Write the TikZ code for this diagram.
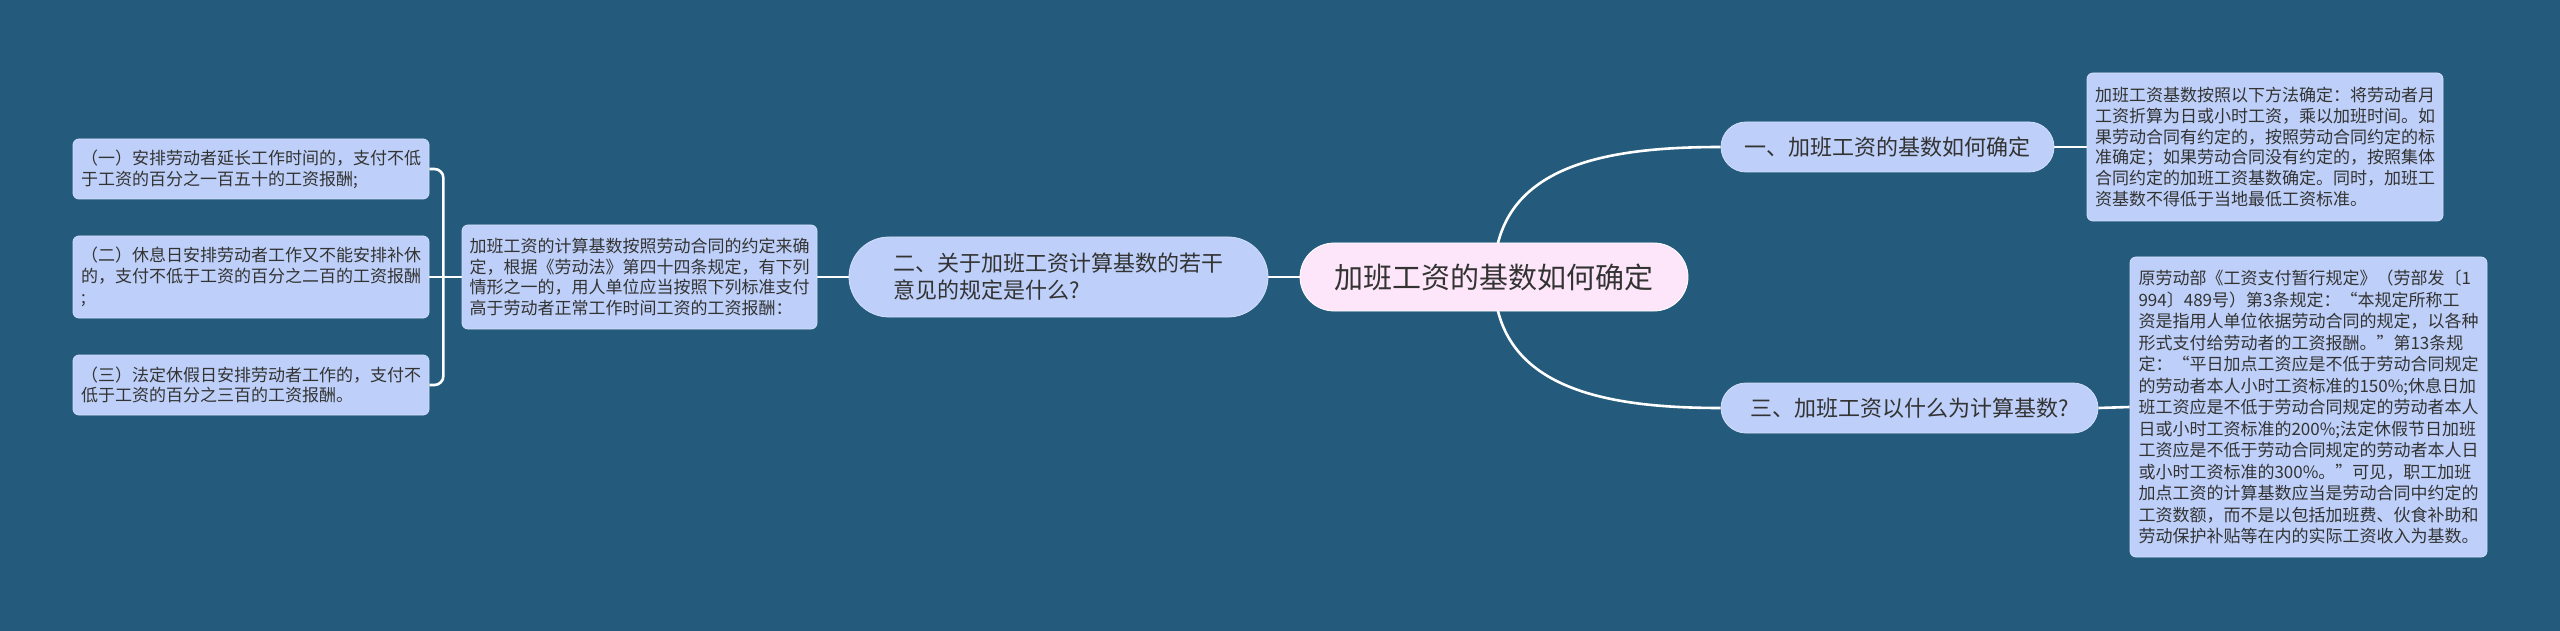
\documentclass[tikz,border=0pt]{standalone}
\usepackage{fontspec}
\setmainfont{Noto Sans CJK SC}
\pgfdeclarelayer{background}
\pgfsetlayers{background,main}
\definecolor{bg}{HTML}{245A7B}
\definecolor{boxblue}{HTML}{BED0F9}
\definecolor{boxedge}{HTML}{D3DFFB}
\definecolor{rootpink}{HTML}{FDE6F9}
\definecolor{txt}{HTML}{333333}
\tikzset{
  leaf/.style={rectangle, rounded corners=6pt, fill=boxblue, draw=boxedge, line width=0.8pt,
    text=txt, font=\fontsize{17}{20.8}\selectfont, align=left, inner sep=0pt},
  branch/.style={rectangle, fill=boxblue, draw=boxedge, line width=0.8pt,
    text=txt, font=\fontsize{22}{27}\selectfont, align=left, inner sep=0pt},
  rootbox/.style={rectangle, rounded corners=34pt, fill=rootpink, draw=white, line width=0.8pt,
    text=txt, font=\fontsize{29}{34}\selectfont, inner sep=0pt},
  conn/.style={draw=white, line width=2.6pt}
}
\begin{document}
\begin{tikzpicture}[x=1pt,y=-1pt]
\begin{pgfonlayer}{background}
\fill[bg] (0,0) rectangle (2560,631);
\end{pgfonlayer}
\useasboundingbox (0,0) rectangle (2560,631);

% root
\node[rootbox, minimum width=388pt, minimum height=68pt] (root) at (1494,277) {加班工资的基数如何确定};

% branches
\node[branch, rounded corners=40pt, minimum width=419pt, minimum height=80pt] (b2) at (1058.5,277)
  {二、关于加班工资计算基数的若干\\意见的规定是什么?};
\node[branch, rounded corners=25pt, minimum width=333pt, minimum height=50pt] (b1) at (1887.5,147)
  {一、加班工资的基数如何确定};
\node[branch, rounded corners=25pt, minimum width=377pt, minimum height=50pt] (b3) at (1909.5,408)
  {三、加班工资以什么为计算基数?};

% middle text
\node[leaf, minimum width=355pt, minimum height=104pt] (m) at (639.5,277)
  {加班工资的计算基数按照劳动合同的约定来确\\定，根据《劳动法》第四十四条规定，有下列\\情形之一的，用人单位应当按照下列标准支付\\高于劳动者正常工作时间工资的工资报酬：};

% left leaves
\node[leaf, minimum width=356pt, minimum height=60pt] (l1) at (251,169)
  {（一）安排劳动者延长工作时间的，支付不低\\于工资的百分之一百五十的工资报酬;};
\node[leaf, minimum width=356pt, minimum height=82pt] (l2) at (251,277)
  {（二）休息日安排劳动者工作又不能安排补休\\的，支付不低于工资的百分之二百的工资报酬\\;};
\node[leaf, minimum width=356pt, minimum height=60pt] (l3) at (251,385)
  {（三）法定休假日安排劳动者工作的，支付不\\低于工资的百分之三百的工资报酬。};

% right leaves
\node[leaf, minimum width=356pt, minimum height=148pt] (r1) at (2265,147)
  {加班工资基数按照以下方法确定：将劳动者月\\工资折算为日或小时工资，乘以加班时间。如\\果劳动合同有约定的，按照劳动合同约定的标\\准确定；如果劳动合同没有约定的，按照集体\\合同约定的加班工资基数确定。同时，加班工\\资基数不得低于当地最低工资标准。};
\node[leaf, font=\fontsize{17}{21.5}\selectfont, minimum width=357pt, minimum height=300pt] (r3) at (2308.5,407)
  {原劳动部《工资支付暂行规定》（劳部发〔1\\994〕489号）第3条规定：“本规定所称工\\资是指用人单位依据劳动合同的规定，以各种\\形式支付给劳动者的工资报酬。”第13条规\\定：“平日加点工资应是不低于劳动合同规定\\的劳动者本人小时工资标准的150\%;休息日加\\班工资应是不低于劳动合同规定的劳动者本人\\日或小时工资标准的200\%;法定休假节日加班\\工资应是不低于劳动合同规定的劳动者本人日\\或小时工资标准的300\%。”可见，职工加班\\加点工资的计算基数应当是劳动合同中约定的\\工资数额，而不是以包括加班费、伙食补助和\\劳动保护补贴等在内的实际工资收入为基数。};

\begin{pgfonlayer}{background}
\draw[conn] (root.center) .. controls +(0,-110) and +(-120,0) .. (b1.west);
\draw[conn] (root.center) .. controls +(0,110) and +(-120,0) .. (b3.west);
\draw[conn] (root.west) -- (b2.east);
\draw[conn] (b2.west) -- (m.east);
\draw[conn] (m.west) -- (l2.east);
\draw[conn, rounded corners=9pt] (l1.east) -- ++(14,0) |- (l3.east);
\draw[conn] (b1.east) -- (r1.west);
\draw[conn] (b3.east) -- (r3.west);
\end{pgfonlayer}
\end{tikzpicture}
\end{document}
